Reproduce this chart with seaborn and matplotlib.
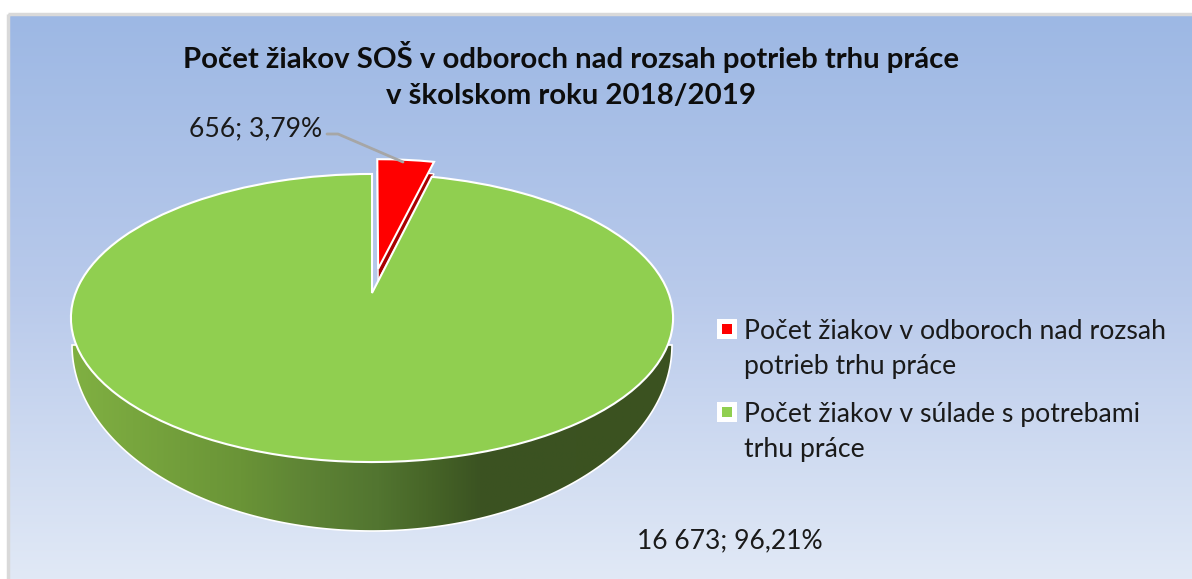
import numpy as np
import seaborn as sns
import matplotlib
matplotlib.use('Agg')
import matplotlib.pyplot as plt
from matplotlib.colors import LinearSegmentedColormap
from matplotlib.patches import Polygon, Rectangle, Wedge
from matplotlib.transforms import Affine2D, Transform

title_lines = 'Počet žiakov SOŠ v odboroch nad rozsah potrieb trhu práce\nv školskom roku 2018/2019'
students = [656, 16673]
count_labels = ['656', '16 673']
share_labels = ['3,79%', '96,21%']
legend_labels = ['Počet žiakov v odboroch nad rozsah\npotrieb trhu práce',
                 'Počet žiakov v súlade s potrebami\ntrhu práce']
slice_colors = ['#FF0000', '#90CF50']


class PiePerspective(Transform):
    # tilts the flat unit pie into the picture, output is in pixel-like data units
    input_dims = 2
    output_dims = 2
    is_affine = False
    has_inverse = False

    def transform_non_affine(self, values):
        values = np.asarray(values, dtype=float)
        u, v = values[:, 0], values[:, 1]
        w = 1 + 0.1736 * v
        return np.column_stack([372 + 296.5 * u / w, 293 - 139.7 * v / w])


sns.set_theme(style='white')
plt.rcParams['font.family'] = ['Lato', 'DejaVu Sans']

fig = plt.figure(figsize=(11.92, 5.79), dpi=100, facecolor='white')
ax = fig.add_axes([0, 0, 1, 1])

wedges, _ = ax.pie(students, colors=sns.color_palette(slice_colors), startangle=90, counterclock=False,
                   explode=[0.18, 0], wedgeprops={'edgecolor': 'white', 'linewidth': 1.5})
to_picture = PiePerspective() + ax.transData
for wedge in wedges:
    wedge.set_transform(to_picture)
    wedge.set_zorder(4)
wedges[0].set_radius(0.97)

# dark flank of the pulled out slice, only the notch lets it show
red = wedges[0]
flank = Wedge(red.center, red.r, red.theta1, red.theta2, facecolor='#A80000', edgecolor='white', linewidth=1.0, zorder=1.5,
              transform=PiePerspective() + Affine2D().translate(0, 12) + ax.transData)
ax.add_patch(flank)

# background
background = np.linspace(0, 1, 256).reshape(-1, 1)
bg_cmap = LinearSegmentedColormap.from_list('bg', ['#9DB8E4', '#B9CAEB', '#E1E9F6'])
ax.imshow(background, cmap=bg_cmap, extent=(9, 1192, 579, 15), aspect='auto', zorder=0)
ax.add_patch(Rectangle((8, 14), 1190, 570, facecolor='none', edgecolor='#D9D9D9', linewidth=2.5, zorder=0.5))

# side wall of the pie
t = np.linspace(np.pi, 2 * np.pi, 200)
wall_xy = np.column_stack([372 + 300 * np.cos(t), 345 - 186 * np.sin(t)])
wall = Polygon(wall_xy, closed=True, facecolor='none', edgecolor='white', linewidth=1.2, zorder=3)
ax.add_patch(wall)
wall_cmap = LinearSegmentedColormap.from_list('wall', [(0, '#80B042'), (0.28, '#6A9437'), (0.38, '#5F8535'),
                                                       (0.51, '#527530'), (0.6, '#466427'), (0.68, '#3B5322'),
                                                       (1, '#3B5220')])
wall_img = ax.imshow(np.linspace(0, 1, 512).reshape(1, -1), cmap=wall_cmap, extent=(72, 672, 531, 345),
                     aspect='auto', zorder=2)
wall_img.set_clip_path(wall)

# leader line and data labels
ax.plot([327, 338, 403], [134, 134, 162], color='#A6A6A6', linewidth=2.0, zorder=5)
text_color = '#1A1A1A'
ax.text(189, 129, f'{count_labels[0]}; {share_labels[0]}', fontsize=19.1, color=text_color, va='center', ha='left', zorder=6)
ax.text(637, 541, f'{count_labels[1]}; {share_labels[1]}', fontsize=19.1, color=text_color, va='center', ha='left', zorder=6)

ax.text(571, 75, title_lines, fontsize=21.15, fontweight='bold', color='#0D0D0D', ha='center', va='center',
        linespacing=1.45, zorder=6)

# legend
ax.scatter([727, 727], [329, 412], marker='s', s=190, c='white', linewidths=0, zorder=5)
ax.scatter([727, 727], [329, 412], marker='s', s=50, c=slice_colors, linewidths=0, zorder=6)
for y, label in zip([349, 432], legend_labels):
    ax.text(744, y, label, fontsize=19.2, color=text_color, ha='left', va='center', linespacing=1.495, zorder=6)

ax.set_xlim(0, 1192)
ax.set_ylim(579, 0)
ax.set_aspect('auto')
ax.axis('off')

fig.savefig('out.png', dpi=100)
